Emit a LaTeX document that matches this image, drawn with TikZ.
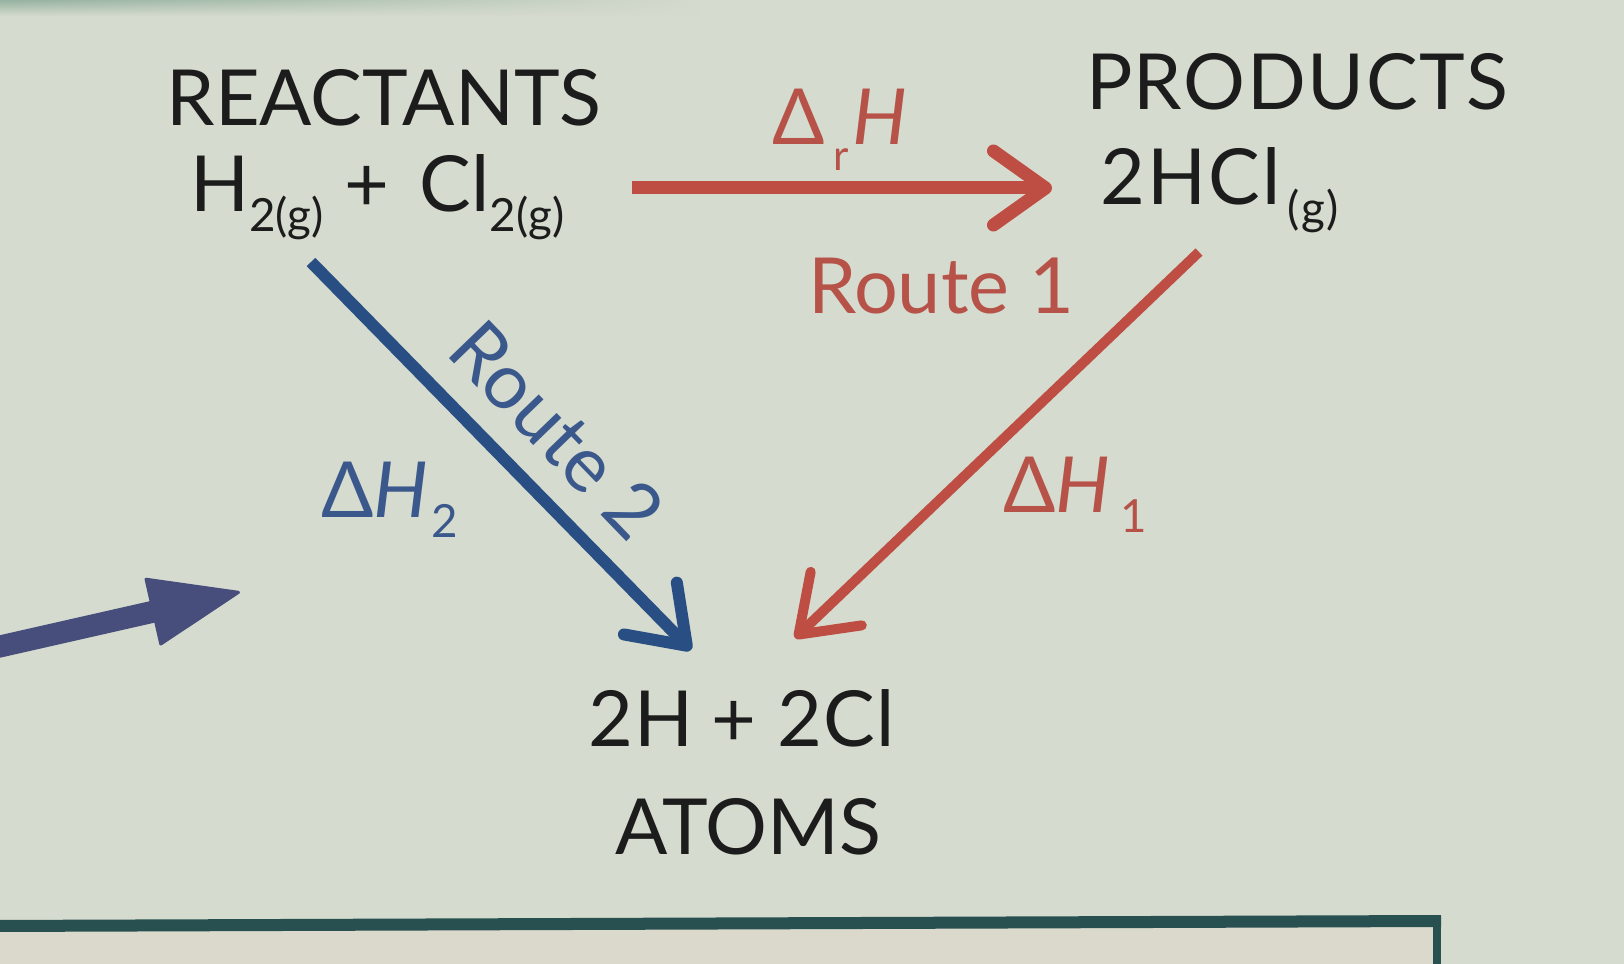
\documentclass[tikz,border=0pt]{standalone}
\usepackage{fontspec}
\setmainfont{Lato}
\usetikzlibrary{arrows.meta,fadings}
\definecolor{bgc}{RGB}{213,219,206}
\definecolor{stripc}{RGB}{150,178,160}
\definecolor{boxc}{RGB}{218,217,204}
\definecolor{tealc}{RGB}{40,80,80}
\definecolor{redc}{RGB}{190,78,68}
\definecolor{redt}{RGB}{182,82,72}
\definecolor{bluec}{RGB}{40,78,132}
\definecolor{bluet}{RGB}{58,88,140}
\definecolor{navyc}{RGB}{72,78,124}
\definecolor{inkc}{RGB}{28,28,28}
\newcommand\sbs[1]{\raisebox{-0.25em}{\fontsize{13}{13}\selectfont #1}}
\newcommand\sbr[1]{\raisebox{-0.33em}{\fontsize{12}{12}\selectfont #1}}
\begin{document}
\begin{tikzpicture}[x=0.01cm,y=-0.01cm,
  txt/.style={inner sep=0pt,outer sep=0pt,font=\fontsize{22}{26}\selectfont,text=inkc},
  redtxt/.style={txt,text=redt},
  bluetxt/.style={txt,text=bluet},
  barb/.style={-{Straight Barb[length=0.52cm,width=0.74cm,round]}},
  redarrow/.style={draw=redc,line width=0.13cm,barb},
  redarrowthin/.style={draw=redc,line width=0.10cm,barb},
  bluearrow/.style={draw=bluec,line width=0.12cm,barb},
  fatarrow/.style={draw=navyc,line width=0.22cm,-{Triangle[length=0.93cm,width=0.70cm,line width=0.03cm,round]}}
]
\useasboundingbox (0,0) rectangle (1624,964);
\fill[bgc] (0,0) rectangle (1624,964);
\shade[top color=stripc, bottom color=bgc, path fading=east] (0,0) rectangle (700,16);
% bottom box
\fill[boxc] (-10,925) -- (1437,921) -- (1437,974) -- (-10,974) -- cycle;
\draw[tealc,line width=0.12cm] (-10,926) -- (1441,921);
\draw[tealc,line width=0.08cm] (1437,917) -- (1437,974);
% texts
\node[txt,anchor=base] (reactants) at (384,126) {REACTANTS};
\node[txt,anchor=base west] (reactf) at (190,212) {H\sbs{2(g)}\hspace{6pt}+\hspace{8.5pt}Cl\sbs{2(g)}};
\node[txt,anchor=base] (products) at (1297,110) {\addfontfeature{LetterSpace=2}PRODUCTS};
\node[txt,anchor=base west] (prodf) at (1100,205) {\addfontfeature{LetterSpace=3}2HCl\kern2pt\sbs{(g)}};
\node[txt,anchor=base west] (atomsf) at (588,746) {\addfontfeature{LetterSpace=2}2H\hspace{5pt}+\hspace{6pt}2Cl};
\node[txt,anchor=base] (atoms) at (748,854) {ATOMS};
\node[redtxt,anchor=base west] (drh) at (772,145) {Δ\kern2.5pt\sbr{r}\kern1pt\textit{H}};
\node[redtxt,anchor=base west] (route1) at (808,314) {Route 1};
\node[redtxt,anchor=base west] (dh1) at (1003,513) {Δ\textit{H}\kern3pt\sbs{1}};
\node[bluetxt,anchor=base west] (dh2) at (321,518) {Δ\textit{H}\kern1pt\sbs{2}};
\node[bluetxt,rotate=-46] (route2) at (557,430) {Route 2};
% connector end points
\coordinate (hs) at (632,188);
\coordinate (he) at (1052,188);
\coordinate (rs) at (1199,252);
\coordinate (re) at (795,638);
\coordinate (bs) at (311,262);
\coordinate (be) at (691,650);
\coordinate (fs) at (-20,651);
\coordinate (fe) at (240,592);
\draw[redarrow] (hs) -- (he);
\draw[redarrowthin] (rs) -- (re);
\draw[bluearrow] (bs) -- (be);
\draw[fatarrow] (fs) -- (fe);
\end{tikzpicture}
\end{document}
